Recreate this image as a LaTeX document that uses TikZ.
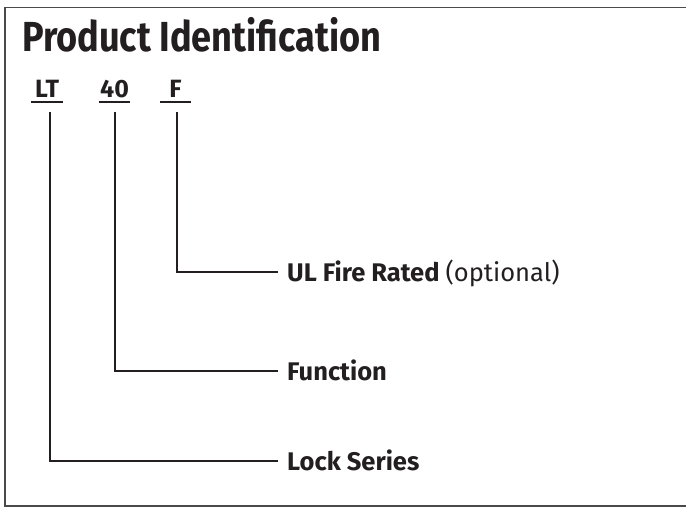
\documentclass[tikz,border=0pt]{standalone}
\usepackage{fontspec}
\setmainfont{Fira Sans}
\newfontfamily\titlefont[FakeStretch=0.86]{Fira Sans}
\usetikzlibrary{positioning}
\definecolor{ink}{HTML}{231F20}
\definecolor{framegray}{HTML}{4A4A4A}

\begin{document}
\begin{tikzpicture}[
    x=1pt, y=-1pt,
    link/.style={draw=ink, line width=2pt},
    code/.style={inner xsep=0pt, inner ysep=4pt, minimum width=31pt, text height=16pt, text depth=0pt, font=\fontsize{25}{28}\selectfont\bfseries, text=ink},
    tag/.style={anchor=west, inner xsep=9pt, inner ysep=0pt, text height=18pt, text depth=0pt, font=\fontsize{25.5}{30}\selectfont, text=ink},
]
    \useasboundingbox (0,0) rectangle (686,508);

    % Frame
    \draw[framegray, line width=1.5pt] (700,7.5) -- (5,7.5) -- (5,506) -- (700,506);

    % Title
    \node[anchor=base west, inner sep=0pt, font=\titlefont\fontsize{42}{48}\selectfont\bfseries, text=ink] (title) at (22,52) {Product Identification};

    % Code parts
    \node[code] (lt) at (47,90) {LT};
    \node[code] (fn) at (114.5,90) {40};
    \node[code] (fire) at (175.5,90) {F};
    \foreach \part in {lt, fn, fire}
        \draw[link, line width=1.6pt] (\part.south west) -- (\part.south east);

    \coordinate (ltfoot) at (50,112);
    \coordinate (fnfoot) at (115,112);
    \coordinate (firefoot) at (177,112);

    % Meanings
    \node[tag] (firetag) at (278,272) {\bfseries UL Fire Rated \mdseries(optional)};
    \node[tag] (fntag) at (278,371) {\bfseries Function};
    \node[tag] (series) at (278,461) {\bfseries Lock Series};

    % Leaders
    \draw[link] (firefoot) |- (firetag);
    \draw[link] (fnfoot) |- (fntag);
    \draw[link] (ltfoot) |- (series);
\end{tikzpicture}
\end{document}
